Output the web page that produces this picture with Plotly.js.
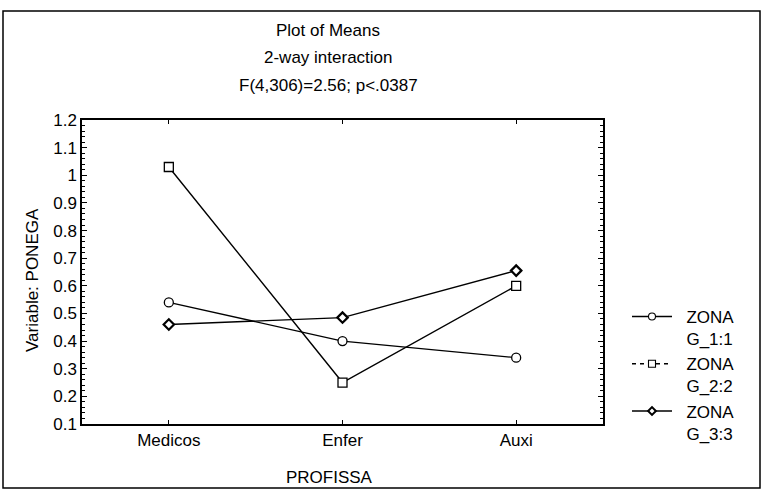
<!DOCTYPE html>
<html>
<head>
<meta charset="utf-8">
<script src="https://cdn.plot.ly/plotly-3.0.1.min.js"></script>
<style>html,body{margin:0;padding:0;background:#fff;}#chart{width:763px;height:491px;}</style>
</head>
<body>
<div id="chart"></div>
<script>
// ---- data ----
var categories = ["Medicos", "Enfer", "Auxi"];
var seriesNames = ["\u00A0\u00A0ZONA<br>\u00A0\u00A0G_1:1", "\u00A0\u00A0ZONA<br>\u00A0\u00A0G_2:2", "\u00A0\u00A0ZONA<br>\u00A0\u00A0G_3:3"];
var zonaG1 = [0.54, 0.40, 0.34];
var zonaG2 = [1.03, 0.25, 0.60];
var zonaG3 = [0.46, 0.485, 0.655];
var titleLines = ["Plot of Means", "2-way interaction", "F(4,306)=2.56; p<.0387"];
var xTitle = "PROFISSA";
var yTitle = "Variable: PONEGA";

// ---- layout geometry (pixels) ----
var W = 763, H = 491;
var L = 82, R = 160, T = 120, B = 67;
var pw = W - L - R, ph = H - T - B;
function px2x(p) { return (p - L) / pw; }
function px2y(p) { return (H - B - p) / ph; }

var FONT = "Liberation Sans, Arial, sans-serif";
var fs = 17;

function lineTrace(y, name, symbol, msize, mlw) {
  return {
    x: categories, y: y, type: "scatter", mode: "lines+markers",
    name: name, showlegend: false,
    line: {color: "#000", width: 1.4},
    marker: {symbol: symbol, size: msize, color: "#fff", line: {color: "#000", width: mlw}}
  };
}
function legendTrace(name, symbol, dash, msize, mlw) {
  return {
    x: [null], y: [null], type: "scatter", mode: "lines+markers",
    name: name, showlegend: true,
    line: {color: "#000", width: 1.4, dash: dash},
    marker: {symbol: symbol, size: msize, color: "#fff", line: {color: "#000", width: mlw}}
  };
}

var data = [
  lineTrace(zonaG1, seriesNames[0], "circle", 9, 1.3),
  lineTrace(zonaG2, seriesNames[1], "square", 9, 1.3),
  lineTrace(zonaG3, seriesNames[2], "diamond", 8, 2.2),
  legendTrace(seriesNames[0], "circle", "solid", 7, 1.1),
  legendTrace(seriesNames[1], "square", "4px,4px", 7, 1.1),
  legendTrace(seriesNames[2], "diamond", "solid", 6, 2)
];

var annotations = [];
var titleYs = [31, 58, 85];
for (var i = 0; i < titleLines.length; i++) {
  annotations.push({
    text: titleLines[i], xref: "paper", yref: "paper",
    x: px2x(328), y: px2y(titleYs[i]), xanchor: "center", yanchor: "middle",
    showarrow: false, font: {family: FONT, size: fs, color: "#000"}
  });
}
annotations.push({
  text: xTitle, xref: "paper", yref: "paper",
  x: px2x(329), y: px2y(477), xanchor: "center", yanchor: "middle",
  showarrow: false, font: {family: FONT, size: fs, color: "#000"}
});
annotations.push({
  text: yTitle, xref: "paper", yref: "paper",
  x: px2x(32), y: px2y(280), xanchor: "center", yanchor: "middle", textangle: -90,
  showarrow: false, font: {family: FONT, size: fs, color: "#000"}
});

var layout = {
  width: W, height: H,
  margin: {l: L, r: R, t: T, b: B, pad: 0},
  paper_bgcolor: "#fff", plot_bgcolor: "#fff",
  font: {family: FONT, size: fs, color: "#000"},
  showlegend: true,
  legend: {
    x: px2x(627), y: px2y(299), xanchor: "left", yanchor: "top",
    bgcolor: "rgba(0,0,0,0)", borderwidth: 0, itemwidth: 40, valign: "top",
    font: {family: FONT, size: fs, color: "#000"}, tracegroupgap: 0
  },
  xaxis: {
    type: "category", range: [-0.5, 2.5],
    showline: true, linecolor: "#000", linewidth: 1.6, mirror: "ticks",
    ticks: "inside", ticklen: 4, tickcolor: "#000",
    showgrid: false, zeroline: false, fixedrange: true,
    tickfont: {family: FONT, size: fs, color: "#000"}
  },
  yaxis: {
    range: [0.1, 1.2], dtick: 0.1, tick0: 0.1,
    showline: true, linecolor: "#000", linewidth: 1.6, mirror: "ticks",
    ticks: "inside", ticklen: 5, tickcolor: "#000",
    minor: {dtick: 0.02, ticks: "inside", ticklen: 3, tickcolor: "#000", showgrid: false},
    showgrid: false, zeroline: false, fixedrange: true,
    tickfont: {family: FONT, size: fs, color: "#000"}
  },
  annotations: annotations,
  shapes: [{
    type: "rect", xref: "paper", yref: "paper",
    x0: px2x(3), x1: px2x(760), y0: px2y(488), y1: px2y(11),
    line: {color: "#000", width: 1.5}, fillcolor: "rgba(0,0,0,0)", layer: "below"
  }]
};

Plotly.newPlot("chart", data, layout, {displayModeBar: false, staticPlot: true});
</script>
</body>
</html>
